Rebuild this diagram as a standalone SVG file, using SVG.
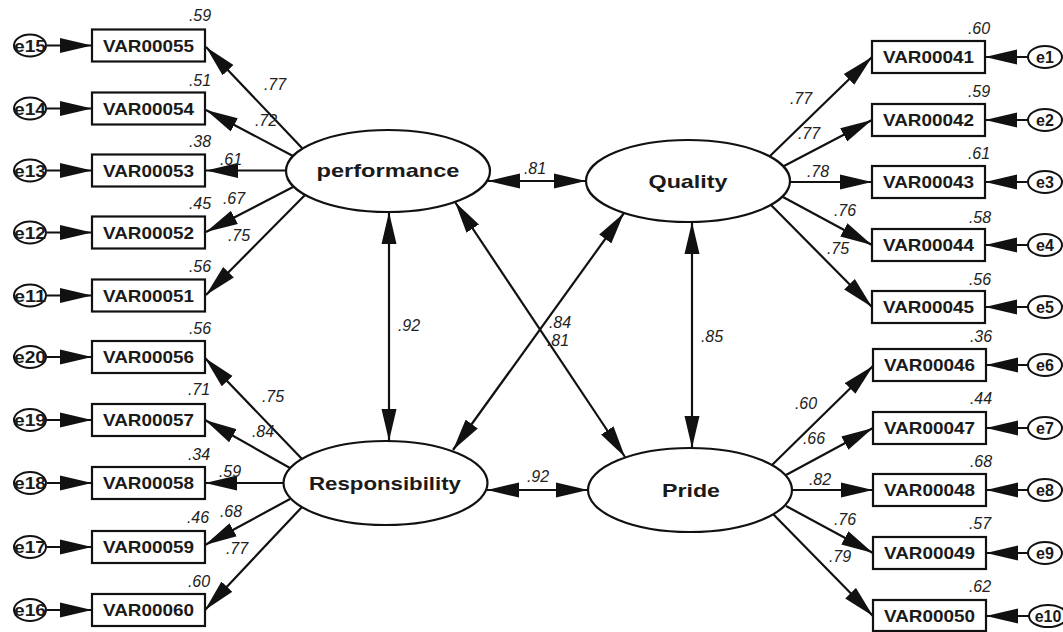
<svg xmlns="http://www.w3.org/2000/svg" width="1063" height="632" viewBox="0 0 1063 632">
<defs>
<marker id="ah" markerUnits="userSpaceOnUse" markerWidth="33" markerHeight="16" refX="32" refY="7.5" orient="auto-start-reverse" viewBox="0 0 33 15">
<path d="M0,0 L32,7.5 L0,15 z" fill="#111"/>
</marker>
<style>
.box{fill:#fff;stroke:#111;stroke-width:2.2}
.lat{fill:#fff;stroke:#111;stroke-width:2.2}
.err{fill:#fff;stroke:#111;stroke-width:2}
.vt{font-family:"Liberation Sans",Arial,sans-serif;font-weight:bold;font-size:16.5px;fill:#1a1a1a;text-anchor:middle}
.lt{font-family:"Liberation Sans",Arial,sans-serif;font-weight:bold;font-size:18.5px;fill:#1a1a1a;text-anchor:middle}
.et{font-family:"Liberation Sans",Arial,sans-serif;font-weight:bold;font-size:16px;fill:#1a1a1a;text-anchor:middle}
.lb{font-family:"Liberation Sans",Arial,sans-serif;font-style:italic;font-size:16px;fill:#222;text-anchor:middle}
.c line{stroke:#111;stroke-width:2.2;marker-end:url(#ah)}
.c line.d{marker-start:url(#ah)}
</style>
</defs>
<rect width="1063" height="632" fill="#fff"/>

<g id="connectors" class="c">
<line x1="47" y1="45.5" x2="92" y2="45.5"/>
<line x1="47" y1="108.5" x2="92" y2="108.5"/>
<line x1="47" y1="170.5" x2="92" y2="170.5"/>
<line x1="47" y1="232.5" x2="92" y2="232.5"/>
<line x1="47" y1="295.5" x2="92" y2="295.5"/>
<line x1="47" y1="357" x2="92" y2="357"/>
<line x1="47" y1="420" x2="92" y2="420"/>
<line x1="47" y1="483" x2="92" y2="483"/>
<line x1="47" y1="547" x2="92" y2="547"/>
<line x1="47" y1="610" x2="92" y2="610"/>
<line x1="1028" y1="57" x2="985" y2="57"/>
<line x1="1028" y1="120" x2="985" y2="120"/>
<line x1="1028" y1="182" x2="985" y2="182"/>
<line x1="1028" y1="245" x2="985" y2="245"/>
<line x1="1028" y1="307" x2="985" y2="307"/>
<line x1="1028" y1="365" x2="986" y2="365"/>
<line x1="1028" y1="428" x2="986" y2="428"/>
<line x1="1028" y1="490" x2="986" y2="490"/>
<line x1="1028" y1="553" x2="986" y2="553"/>
<line x1="1029" y1="616" x2="986" y2="616"/>
<line x1="302" y1="148" x2="206" y2="47"/>
<line x1="293" y1="156" x2="206" y2="110"/>
<line x1="286" y1="170.5" x2="206" y2="170.5"/>
<line x1="293" y1="187" x2="206" y2="232"/>
<line x1="305" y1="195" x2="206" y2="295"/>
<line x1="302" y1="459" x2="205" y2="358"/>
<line x1="290" y1="468" x2="205" y2="420"/>
<line x1="283" y1="483" x2="205" y2="483"/>
<line x1="290" y1="499" x2="205" y2="545"/>
<line x1="302" y1="507" x2="205" y2="610"/>
<line x1="770" y1="156" x2="872" y2="57"/>
<line x1="784" y1="166" x2="872" y2="120"/>
<line x1="790" y1="182" x2="872" y2="182"/>
<line x1="783" y1="197" x2="872" y2="245"/>
<line x1="771" y1="205" x2="872" y2="307"/>
<line x1="772" y1="465" x2="873" y2="366"/>
<line x1="786" y1="475" x2="873" y2="428"/>
<line x1="792" y1="490" x2="873" y2="490"/>
<line x1="786" y1="506" x2="873" y2="553"/>
<line x1="773" y1="514" x2="873" y2="616"/>
<line class="d" x1="488" y1="181" x2="586" y2="181"/>
<line class="d" x1="487" y1="490" x2="588" y2="490"/>
<line class="d" x1="389" y1="212" x2="389" y2="441"/>
<line class="d" x1="692" y1="222" x2="692" y2="448"/>
<line class="d" x1="455" y1="202" x2="625" y2="457"/>
<line class="d" x1="624" y1="213" x2="453" y2="450"/>
</g>

<g id="labels">
<text class="lb" x="200" y="21">.59</text>
<text class="lb" x="200" y="86">.51</text>
<text class="lb" x="200" y="147">.38</text>
<text class="lb" x="200" y="209">.45</text>
<text class="lb" x="200" y="272">.56</text>
<text class="lb" x="275" y="90">.77</text>
<text class="lb" x="266" y="126">.72</text>
<text class="lb" x="231" y="165">.61</text>
<text class="lb" x="234" y="204">.67</text>
<text class="lb" x="239" y="241">.75</text>
<text class="lb" x="200" y="334">.56</text>
<text class="lb" x="199" y="395">.71</text>
<text class="lb" x="199" y="460">.34</text>
<text class="lb" x="198" y="523">.46</text>
<text class="lb" x="199" y="587">.60</text>
<text class="lb" x="273" y="402">.75</text>
<text class="lb" x="263" y="437">.84</text>
<text class="lb" x="230" y="477">.59</text>
<text class="lb" x="231" y="517">.68</text>
<text class="lb" x="237" y="554">.77</text>
<text class="lb" x="979" y="34">.60</text>
<text class="lb" x="979" y="97">.59</text>
<text class="lb" x="979" y="159">.61</text>
<text class="lb" x="980" y="223">.58</text>
<text class="lb" x="980" y="285">.56</text>
<text class="lb" x="801" y="104">.77</text>
<text class="lb" x="809" y="139">.77</text>
<text class="lb" x="818" y="177">.78</text>
<text class="lb" x="845" y="216">.76</text>
<text class="lb" x="838" y="254">.75</text>
<text class="lb" x="981" y="342">.36</text>
<text class="lb" x="981" y="404">.44</text>
<text class="lb" x="981" y="467">.68</text>
<text class="lb" x="980" y="529">.57</text>
<text class="lb" x="980" y="592">.62</text>
<text class="lb" x="806" y="409">.60</text>
<text class="lb" x="814" y="444">.66</text>
<text class="lb" x="820" y="485">.82</text>
<text class="lb" x="845" y="525">.76</text>
<text class="lb" x="840" y="562">.79</text>
<text class="lb" x="535" y="174">.81</text>
<text class="lb" x="538" y="482">.92</text>
<text class="lb" x="409" y="331">.92</text>
<text class="lb" x="712" y="342">.85</text>
<text class="lb" x="560" y="328">.84</text>
<text class="lb" x="558" y="346">.81</text>
</g>

<g id="performance"><ellipse class="lat" cx="388" cy="171" rx="102" ry="41"/><text class="lt" x="388" y="177" textLength="143" lengthAdjust="spacingAndGlyphs">performance</text></g>
<g id="Quality"><ellipse class="lat" cx="688" cy="181" rx="102" ry="41"/><text class="lt" x="688" y="188" textLength="79" lengthAdjust="spacingAndGlyphs">Quality</text></g>
<g id="Responsibility"><ellipse class="lat" cx="385.5" cy="483" rx="102" ry="42"/><text class="lt" x="385" y="490" textLength="152" lengthAdjust="spacingAndGlyphs">Responsibility</text></g>
<g id="Pride"><ellipse class="lat" cx="690" cy="490" rx="102" ry="42"/><text class="lt" x="691" y="497" textLength="58" lengthAdjust="spacingAndGlyphs">Pride</text></g>

<g id="VAR00055"><rect class="box" x="92" y="29.5" width="113" height="32"/><text class="vt" x="148.5" y="51.5" textLength="91" lengthAdjust="spacingAndGlyphs">VAR00055</text></g>
<g id="VAR00054"><rect class="box" x="92" y="92.5" width="113" height="32"/><text class="vt" x="148.5" y="114.5" textLength="91" lengthAdjust="spacingAndGlyphs">VAR00054</text></g>
<g id="VAR00053"><rect class="box" x="92" y="154.5" width="113" height="32"/><text class="vt" x="148.5" y="176.5" textLength="91" lengthAdjust="spacingAndGlyphs">VAR00053</text></g>
<g id="VAR00052"><rect class="box" x="92" y="216.5" width="113" height="32"/><text class="vt" x="148.5" y="238.5" textLength="91" lengthAdjust="spacingAndGlyphs">VAR00052</text></g>
<g id="VAR00051"><rect class="box" x="92" y="279.5" width="113" height="32"/><text class="vt" x="148.5" y="301.5" textLength="91" lengthAdjust="spacingAndGlyphs">VAR00051</text></g>
<g id="VAR00056"><rect class="box" x="92" y="341" width="113" height="32"/><text class="vt" x="148.5" y="363" textLength="91" lengthAdjust="spacingAndGlyphs">VAR00056</text></g>
<g id="VAR00057"><rect class="box" x="92" y="404" width="113" height="32"/><text class="vt" x="148.5" y="426" textLength="91" lengthAdjust="spacingAndGlyphs">VAR00057</text></g>
<g id="VAR00058"><rect class="box" x="92" y="467" width="113" height="32"/><text class="vt" x="148.5" y="489" textLength="91" lengthAdjust="spacingAndGlyphs">VAR00058</text></g>
<g id="VAR00059"><rect class="box" x="92" y="531" width="113" height="32"/><text class="vt" x="148.5" y="553" textLength="91" lengthAdjust="spacingAndGlyphs">VAR00059</text></g>
<g id="VAR00060"><rect class="box" x="92" y="594" width="113" height="32"/><text class="vt" x="148.5" y="616" textLength="91" lengthAdjust="spacingAndGlyphs">VAR00060</text></g>

<g id="VAR00041"><rect class="box" x="872" y="41" width="113" height="32"/><text class="vt" x="928.5" y="63" textLength="91" lengthAdjust="spacingAndGlyphs">VAR00041</text></g>
<g id="VAR00042"><rect class="box" x="872" y="104" width="113" height="32"/><text class="vt" x="928.5" y="126" textLength="91" lengthAdjust="spacingAndGlyphs">VAR00042</text></g>
<g id="VAR00043"><rect class="box" x="872" y="166" width="113" height="32"/><text class="vt" x="928.5" y="188" textLength="91" lengthAdjust="spacingAndGlyphs">VAR00043</text></g>
<g id="VAR00044"><rect class="box" x="872" y="229" width="113" height="32"/><text class="vt" x="928.5" y="251" textLength="91" lengthAdjust="spacingAndGlyphs">VAR00044</text></g>
<g id="VAR00045"><rect class="box" x="872" y="291" width="113" height="32"/><text class="vt" x="928.5" y="313" textLength="91" lengthAdjust="spacingAndGlyphs">VAR00045</text></g>
<g id="VAR00046"><rect class="box" x="873" y="349" width="113" height="32"/><text class="vt" x="929.5" y="371" textLength="91" lengthAdjust="spacingAndGlyphs">VAR00046</text></g>
<g id="VAR00047"><rect class="box" x="873" y="412" width="113" height="32"/><text class="vt" x="929.5" y="434" textLength="91" lengthAdjust="spacingAndGlyphs">VAR00047</text></g>
<g id="VAR00048"><rect class="box" x="873" y="474" width="113" height="32"/><text class="vt" x="929.5" y="496" textLength="91" lengthAdjust="spacingAndGlyphs">VAR00048</text></g>
<g id="VAR00049"><rect class="box" x="873" y="537" width="113" height="32"/><text class="vt" x="929.5" y="559" textLength="91" lengthAdjust="spacingAndGlyphs">VAR00049</text></g>
<g id="VAR00050"><rect class="box" x="873" y="600" width="113" height="31"/><text class="vt" x="929.5" y="622" textLength="91" lengthAdjust="spacingAndGlyphs">VAR00050</text></g>

<g id="e15"><ellipse class="err" cx="30" cy="45.5" rx="16" ry="11"/><text class="et" x="30" y="51.5" textLength="32" lengthAdjust="spacingAndGlyphs">e15</text></g>
<g id="e14"><ellipse class="err" cx="30" cy="108.5" rx="16" ry="11"/><text class="et" x="30" y="114.5" textLength="32" lengthAdjust="spacingAndGlyphs">e14</text></g>
<g id="e13"><ellipse class="err" cx="30" cy="170.5" rx="16" ry="11"/><text class="et" x="30" y="176.5" textLength="32" lengthAdjust="spacingAndGlyphs">e13</text></g>
<g id="e12"><ellipse class="err" cx="30" cy="232.5" rx="16" ry="11"/><text class="et" x="30" y="238.5" textLength="32" lengthAdjust="spacingAndGlyphs">e12</text></g>
<g id="e11"><ellipse class="err" cx="30" cy="295.5" rx="16" ry="11"/><text class="et" x="30" y="301.5" textLength="32" lengthAdjust="spacingAndGlyphs">e11</text></g>
<g id="e20"><ellipse class="err" cx="30" cy="357" rx="16" ry="11"/><text class="et" x="30" y="363" textLength="32" lengthAdjust="spacingAndGlyphs">e20</text></g>
<g id="e19"><ellipse class="err" cx="30" cy="420" rx="16" ry="11"/><text class="et" x="30" y="426" textLength="32" lengthAdjust="spacingAndGlyphs">e19</text></g>
<g id="e18"><ellipse class="err" cx="30" cy="483" rx="16" ry="11"/><text class="et" x="30" y="489" textLength="32" lengthAdjust="spacingAndGlyphs">e18</text></g>
<g id="e17"><ellipse class="err" cx="30" cy="547" rx="16" ry="11"/><text class="et" x="30" y="553" textLength="32" lengthAdjust="spacingAndGlyphs">e17</text></g>
<g id="e16"><ellipse class="err" cx="30" cy="610" rx="16" ry="11"/><text class="et" x="30" y="616" textLength="32" lengthAdjust="spacingAndGlyphs">e16</text></g>

<g id="e1"><ellipse class="err" cx="1045" cy="57" rx="17" ry="11"/><text class="et" x="1045" y="63">e1</text></g>
<g id="e2"><ellipse class="err" cx="1045" cy="120" rx="17" ry="11"/><text class="et" x="1045" y="126">e2</text></g>
<g id="e3"><ellipse class="err" cx="1045" cy="182" rx="17" ry="11"/><text class="et" x="1045" y="188">e3</text></g>
<g id="e4"><ellipse class="err" cx="1045" cy="245" rx="17" ry="11"/><text class="et" x="1045" y="251">e4</text></g>
<g id="e5"><ellipse class="err" cx="1045" cy="307" rx="17" ry="11"/><text class="et" x="1045" y="313">e5</text></g>
<g id="e6"><ellipse class="err" cx="1045" cy="365" rx="17" ry="11"/><text class="et" x="1045" y="371">e6</text></g>
<g id="e7"><ellipse class="err" cx="1045" cy="428" rx="17" ry="11"/><text class="et" x="1045" y="434">e7</text></g>
<g id="e8"><ellipse class="err" cx="1045" cy="490" rx="17" ry="11"/><text class="et" x="1045" y="496">e8</text></g>
<g id="e9"><ellipse class="err" cx="1045" cy="553" rx="17" ry="11"/><text class="et" x="1045" y="559">e9</text></g>
<g id="e10"><ellipse class="err" cx="1048" cy="616" rx="19" ry="11"/><text class="et" x="1048" y="622">e10</text></g>
</svg>
